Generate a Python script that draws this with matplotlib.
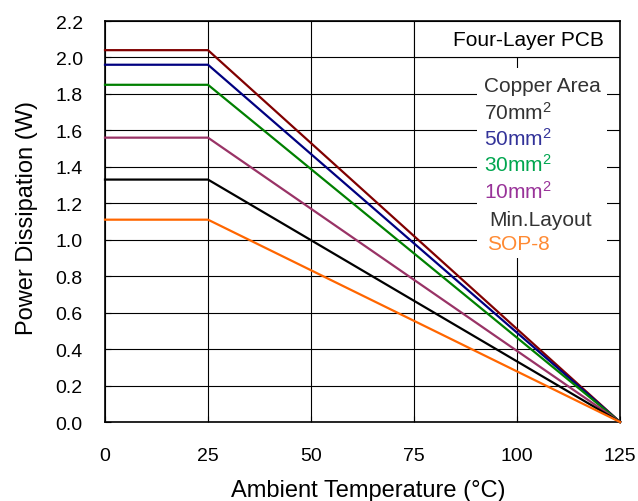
import numpy as np
import matplotlib
matplotlib.use("Agg")
import matplotlib.pyplot as plt
from matplotlib.patches import Rectangle

plt.rcParams['font.family'] = ['Liberation Sans', 'DejaVu Sans']
plt.rcParams['mathtext.default'] = 'regular'

# Derating curves: flat until 25 C, then linear down to 0 at 125 C
temps = [0, 25, 125]
labels = ["70mm$^2$", "50mm$^2$", "30mm$^2$", "10mm$^2$", "Min.Layout", "SOP-8"]
max_power = [2.04, 1.96, 1.85, 1.56, 1.33, 1.11]
line_colors = ["#800000", "#000080", "#008000", "#993366", "#000000", "#ff6600"]
text_colors = ["#333333", "#333399", "#00a64f", "#993399", "#333333", "#ff8a33"]

x_ticks = [0, 25, 50, 75, 100, 125]
y_ticks = np.arange(0, 2.21, 0.2)

fig = plt.figure(figsize=(6.38, 5.02), dpi=100)
ax = fig.add_axes([105/638, 1 - 423/502, 515/638, 401/502])

for p, c in zip(max_power, line_colors):
    ax.plot(temps, [p, p, 0], color=c, lw=1.6, zorder=3, clip_on=False)

ax.set_xlim(0, 125)
ax.set_ylim(0, 2.2)
ax.set_xticks(x_ticks)
ax.set_yticks(y_ticks)
ax.set_yticklabels(["%.1f" % v for v in y_ticks])
ax.grid(True, color="black", lw=0.8)
ax.set_axisbelow(True)
ax.tick_params(direction="in", length=4, width=0.8, labelsize=14, colors="black")
ax.tick_params(axis="y", pad=16)
ax.tick_params(axis="x", pad=18)
for s in ax.spines.values():
    s.set_linewidth(1.2)

ax.set_xlabel("Ambient Temperature (°C)", fontsize=17)
ax.set_ylabel("Power Dissipation (W)", fontsize=17)
ax.xaxis.set_label_coords(0.512, -0.142)
ax.yaxis.set_label_coords(-0.13, 0.511)

# "Four-Layer PCB" box
ax.add_patch(Rectangle((75, 2.0), 50, 0.2, facecolor="white", edgecolor="black",
                       lw=0.8, zorder=2))
ax.text(121, 2.1, "Four-Layer PCB", ha="right", va="center", fontsize=15, zorder=4)

# white area behind the legend text
ax.add_patch(Rectangle((90.3, 0.9), 31.5, 1.04, facecolor="white", edgecolor="none",
                       zorder=2))
ax.text(92, 1.845, "Copper Area", ha="left", va="center", fontsize=15,
        color="#333333", zorder=4)
y_pos = [1.70, 1.56, 1.415, 1.27, 1.11, 0.98]
x_pos = [92, 92, 92, 92, 93.2, 92.7]
for lab, c, xx, yy in zip(labels, text_colors, x_pos, y_pos):
    ax.text(xx, yy, lab, ha="left", va="center", fontsize=15, color=c, zorder=4)

fig.savefig("out.png", dpi=100)
